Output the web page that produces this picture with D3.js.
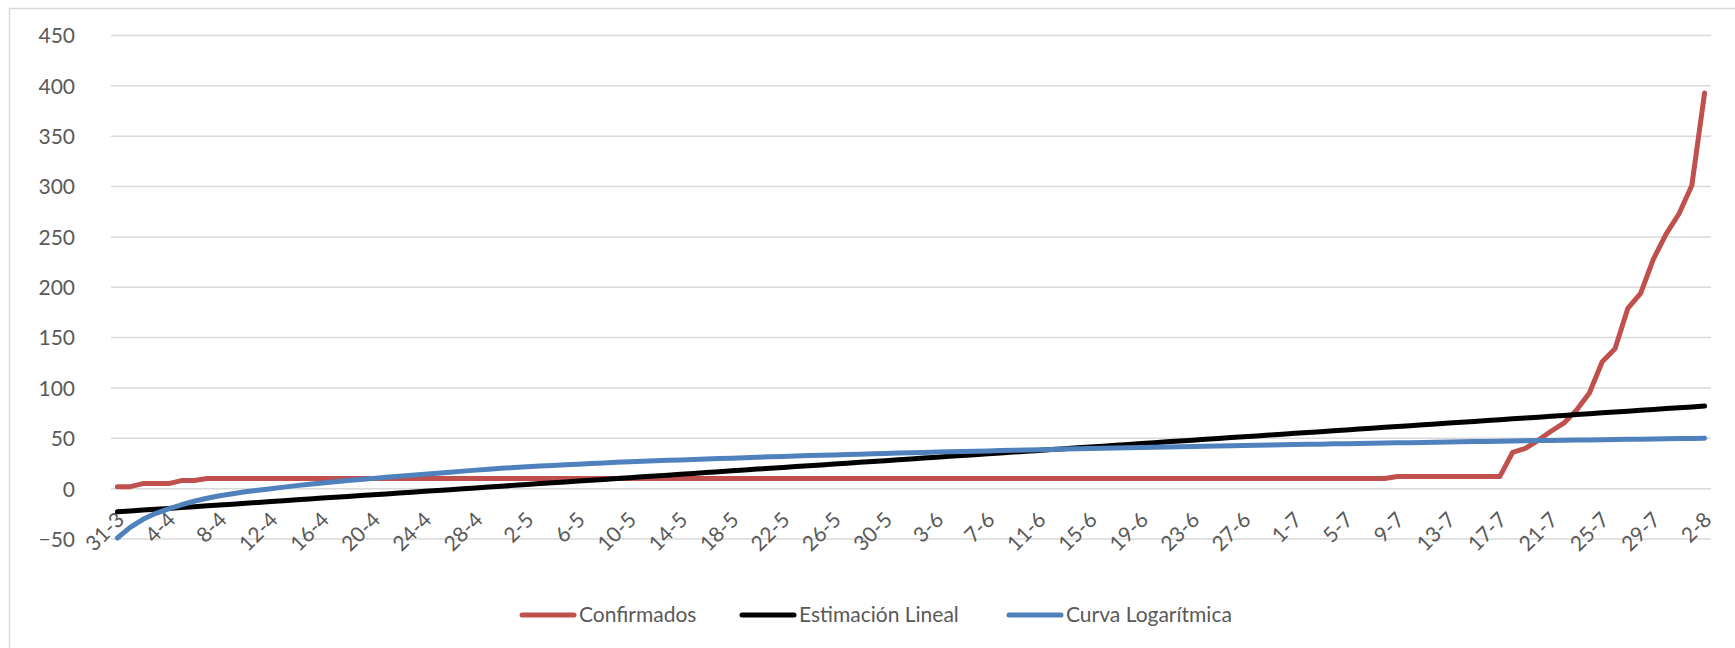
<!DOCTYPE html>
<html><head><meta charset="utf-8">
<script src="https://cdn.jsdelivr.net/npm/d3@7"></script>
<style>html,body{margin:0;padding:0;background:#fff;} svg{display:block;}</style>
</head><body>
<svg id="chart" width="1735" height="648"></svg>
<script>
const categories = [
"31-3",
"1-4","2-4","3-4","4-4","5-4","6-4","7-4","8-4","9-4","10-4","11-4","12-4","13-4","14-4","15-4","16-4","17-4","18-4","19-4","20-4","21-4","22-4","23-4","24-4","25-4","26-4","27-4","28-4","29-4","30-4",
"1-5","2-5","3-5","4-5","5-5","6-5","7-5","8-5","9-5","10-5","11-5","12-5","13-5","14-5","15-5","16-5","17-5","18-5","19-5","20-5","21-5","22-5","23-5","24-5","25-5","26-5","27-5","28-5","29-5","30-5","31-5",
"1-6","2-6","3-6","4-6","5-6","6-6","7-6","8-6","9-6","10-6","11-6","12-6","13-6","14-6","15-6","16-6","17-6","18-6","19-6","20-6","21-6","22-6","23-6","24-6","25-6","26-6","27-6","28-6","29-6","30-6",
"1-7","2-7","3-7","4-7","5-7","6-7","7-7","8-7","9-7","10-7","11-7","12-7","13-7","14-7","15-7","16-7","17-7","18-7","19-7","20-7","21-7","22-7","23-7","24-7","25-7","26-7","27-7","28-7","29-7","30-7","31-7",
"1-8","2-8"];

const tickLabels = ["31-3","4-4","8-4","12-4","16-4","20-4","24-4","28-4","2-5","6-5","10-5","14-5","18-5","22-5","26-5","30-5","3-6","7-6","11-6","15-6","19-6","23-6","27-6","1-7","5-7","9-7","13-7","17-7","21-7","25-7","29-7","2-8"];

const yTicks = [-50,0,50,100,150,200,250,300,350,400,450];

const confirmados = [
2,2,5,5,5,8,8,10,10,10,
10,10,10,10,10,10,10,10,10,10,
10,10,10,10,10,10,10,10,10,10,
10,10,10,10,10,10,10,10,10,10,
10,10,10,10,10,10,10,10,10,10,
10,10,10,10,10,10,10,10,10,10,
10,10,10,10,10,10,10,10,10,10,
10,10,10,10,10,10,10,10,10,10,
10,10,10,10,10,10,10,10,10,10,
10,10,10,10,10,10,10,10,10,10,
12,12,12,12,12,12,12,12,12,36,
40,48,57,65,78,95,126,139,179,194,
228,253,273,301,393];

const estimacionLineal = [
-23.0,-22.2,-21.3,-20.5,-19.6,-18.8,-17.9,-17.1,-16.2,-15.4,
-14.5,-13.7,-12.8,-12.0,-11.1,-10.3,-9.4,-8.6,-7.8,-6.9,
-6.1,-5.2,-4.4,-3.5,-2.7,-1.8,-1.0,-0.1,0.7,1.6,
2.4,3.3,4.1,5.0,5.8,6.6,7.5,8.3,9.2,10.0,
10.9,11.7,12.6,13.4,14.3,15.1,16.0,16.8,17.7,18.5,
19.4,20.2,21.0,21.9,22.7,23.6,24.4,25.3,26.1,27.0,
27.8,28.7,29.5,30.4,31.2,32.1,32.9,33.7,34.6,35.4,
36.3,37.1,38.0,38.8,39.7,40.5,41.4,42.2,43.1,43.9,
44.8,45.6,46.5,47.3,48.1,49.0,49.8,50.7,51.5,52.4,
53.2,54.1,54.9,55.8,56.6,57.5,58.3,59.2,60.0,60.9,
61.7,62.5,63.4,64.2,65.1,65.9,66.8,67.6,68.5,69.3,
70.2,71.0,71.9,72.7,73.6,74.4,75.3,76.1,76.9,77.8,
78.6,79.5,80.3,81.2,82.0];

const curvaLogaritmica = [
-49,-38.5,-30.5,-24.5,-20,-16,-12.5,-9.5,-7,-5,
-3,-1.5,0,1.5,3,4.3,5.6,6.8,8,9.1,
10.2,11.3,12.4,13.4,14.4,15.4,16.4,17.4,18.4,19.3,
20.2,21.0,21.7,22.4,23.1,23.7,24.3,24.9,25.5,26.1,
26.6,27.1,27.6,28.1,28.5,29.0,29.5,29.9,30.3,30.8,
31.2,31.6,32.0,32.4,32.8,33.1,33.5,33.9,34.2,34.6,
34.9,35.3,35.6,35.9,36.3,36.6,36.9,37.2,37.5,37.8,
38.1,38.4,38.7,39.0,39.3,39.5,39.8,40.1,40.4,40.6,
40.9,41.1,41.4,41.6,41.9,42.1,42.4,42.6,42.9,43.1,
43.3,43.6,43.8,44.0,44.2,44.5,44.7,44.9,45.1,45.3,
45.5,45.7,45.9,46.1,46.3,46.5,46.7,46.9,47.1,47.3,
47.5,47.7,47.9,48.1,48.2,48.4,48.6,48.8,49.0,49.1,
49.3,49.5,49.7,49.8,50.0];

const seriesNames = ["Confirmados","Estimación Lineal","Curva Logarítmica"];
const seriesColors = ["#C0504D","#000000","#4F81BD"];
const seriesData = [confirmados, estimacionLineal, curvaLogaritmica];

const FONT = "Lato, 'Open Sans', sans-serif";
const TEXT = "#595959";

const svg = d3.select("#chart");

// outer chart border
svg.append("rect").attr("x",9.5).attr("y",8.5).attr("width",1800).attr("height",800)
  .attr("fill","none").attr("stroke","#d9d9d9").attr("stroke-width",1.5);

const x = d3.scalePoint().domain(categories).range([111,1711]).padding(0.5);
const y = d3.scaleLinear().domain([-50,450]).range([539,35.5]);

// gridlines
svg.append("g").selectAll("line").data(yTicks).join("line")
  .attr("x1",111).attr("x2",1711)
  .attr("y1",d=>y(d)).attr("y2",d=>y(d))
  .attr("stroke","#d9d9d9").attr("stroke-width",1.5);

// y axis labels
const yAxis = d3.axisLeft(y).tickValues(yTicks).tickSize(0).tickPadding(0);
const gy = svg.append("g").attr("transform","translate(75,0)").call(yAxis);
gy.select(".domain").remove();
gy.selectAll("text").attr("font-family",FONT).attr("font-size",21).attr("fill",TEXT).attr("dy","0.35em");

// x labels
const gx = svg.append("g");
gx.selectAll("text").data(tickLabels).join("text")
  .attr("transform",d=>`translate(${x(d)+3},516) rotate(-45)`)
  .attr("text-anchor","end").attr("dy","0.35em")
  .attr("font-family",FONT).attr("font-size",21).attr("fill",TEXT)
  .text(d=>d);

// lines
const line = d3.line().x((d,i)=>x(categories[i])).y(d=>y(d));
seriesData.forEach((s,k)=>{
  svg.append("path").datum(s).attr("d",line)
    .attr("fill","none").attr("stroke",seriesColors[k]).attr("stroke-width",5)
    .attr("stroke-linejoin","round").attr("stroke-linecap","round");
});

// legend
const legendX = [522, 742, 1009];
const lg = svg.append("g");
seriesNames.forEach((n,k)=>{
  lg.append("line").attr("x1",legendX[k]).attr("x2",legendX[k]+52)
    .attr("y1",615).attr("y2",615).attr("stroke",seriesColors[k]).attr("stroke-width",5)
    .attr("stroke-linecap","round");
  lg.append("text").attr("x",legendX[k]+57).attr("y",615).attr("dy","0.35em")
    .attr("font-family",FONT).attr("font-size",21).attr("fill",TEXT).text(n);
});
</script>
</body></html>
